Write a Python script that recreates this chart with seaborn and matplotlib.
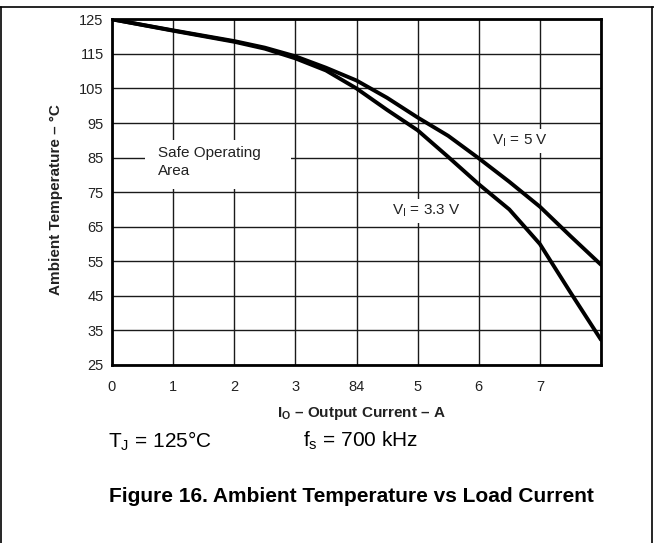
import matplotlib
matplotlib.use("Agg")
import matplotlib.pyplot as plt
import seaborn as sns
import pandas as pd
from matplotlib.lines import Line2D
from matplotlib.patches import Rectangle

# ---- data ----
current_5v = [0, 1, 2, 2.5, 3, 3.5, 4, 4.5, 5, 5.5, 6, 6.5, 7, 7.5, 8]
temp_5v = [125, 121.8, 118.7, 116.8, 114.3, 111.0, 107.3, 102.3, 96.6, 91.3, 84.8, 78.0, 70.8, 62.3, 54.0]
current_33v = [0, 1, 2, 2.5, 3, 3.5, 4, 4.5, 5, 5.5, 6, 6.5, 7, 7.5, 8]
temp_33v = [125, 121.7, 118.5, 116.5, 113.7, 110.2, 105.0, 98.8, 92.9, 85.2, 77.3, 70.0, 60.0, 46.0, 32.3]
x_ticks = [0, 1, 2, 3, 4, 5, 6, 7, 8]
x_tick_labels = ["0", "1", "2", "3", "84", "5", "6", "7", ""]
y_ticks = [25, 35, 45, 55, 65, 75, 85, 95, 105, 115, 125]

df = pd.concat([
    pd.DataFrame({"I": current_5v, "T": temp_5v, "VI": "5 V"}),
    pd.DataFrame({"I": current_33v, "T": temp_33v, "VI": "3.3 V"}),
])

sns.set_theme(style="white")
plt.rcParams["font.family"] = ["Liberation Sans", "DejaVu Sans"]
plt.rcParams["mathtext.fontset"] = "custom"
plt.rcParams["mathtext.rm"] = "Liberation Sans"
plt.rcParams["mathtext.it"] = "Liberation Sans"
plt.rcParams["mathtext.bf"] = "Liberation Sans:bold"

fig = plt.figure(figsize=(6.54, 5.43), dpi=100)
fig.patch.set_facecolor("white")
ax = fig.add_axes([112 / 654, 1 - 365 / 543, (601 - 112) / 654, (365 - 19.3) / 543])

for vi in ["5 V", "3.3 V"]:
    sns.lineplot(data=df[df["VI"] == vi], x="I", y="T", ax=ax, color="black",
                 lw=2.8, sort=False, zorder=5, legend=False)

ax.set_xlim(0, 8)
ax.set_ylim(25, 125)
ax.set_xticks(x_ticks)
ax.set_xticklabels(x_tick_labels)
ax.set_yticks(y_ticks)
ax.tick_params(axis="both", length=0, labelsize=10.5, colors="#222222")
ax.tick_params(axis="x", pad=11)
ax.tick_params(axis="y", pad=6)
ax.grid(True, color="#1a1a1a", lw=1.0)
ax.set_axisbelow(True)
for s in ax.spines.values():
    s.set_visible(True)
    s.set_color("black")
    s.set_linewidth(2.0)
ax.set_xlabel("")
ax.set_ylabel("")

# white label boxes
ax.add_patch(Rectangle((0.54, 76.0), 2.39, 14.0, facecolor="white", edgecolor="none", zorder=3))
ax.text(0.75, 83.7, "Safe Operating\nArea", fontsize=11, color="#222222",
        ha="left", va="center", linespacing=1.3, zorder=4)
ax.text(6.68, 89.8, r"V$_\mathregular{I}$ = 5 V", fontsize=11, color="#222222",
        ha="center", va="center", zorder=4,
        bbox=dict(facecolor="white", edgecolor="none", pad=2.5))
ax.text(5.14, 69.5, r"V$_\mathregular{I}$ = 3.3 V", fontsize=11, color="#222222",
        ha="center", va="center", zorder=4,
        bbox=dict(facecolor="white", edgecolor="none", pad=2.5))

# axis titles
fig.text(56 / 654, 1 - 200 / 543, "Ambient Temperature – °C", rotation=90,
         fontsize=11, fontweight="bold", ha="center", va="center", color="#222222")
fig.text(361 / 654, 1 - 413 / 543, r"I$_\mathbf{O}$ – Output Current – A",
         fontsize=11, fontweight="bold", ha="center", va="center", color="#222222")

# conditions
fig.text(108 / 654, 1 - 441 / 543, r"T$_\mathregular{J}$ = 125°C", fontsize=15,
         ha="left", va="center", color="black")
fig.text(303 / 654, 1 - 441 / 543, r"f$_\mathregular{s}$ = 700 kHz", fontsize=15,
         ha="left", va="center", color="black")

# caption
fig.text(351 / 654, 1 - 497 / 543, "Figure 16. Ambient Temperature vs Load Current",
         fontsize=15, fontweight="bold", ha="center", va="center", color="black")

# outer frame
ytop = 1 - 7 / 543
fig.add_artist(Line2D([0, 1], [ytop, ytop], transform=fig.transFigure, color="black", lw=1.2))
fig.add_artist(Line2D([0.0015, 0.0015], [0, ytop], transform=fig.transFigure, color="black", lw=1.2))
fig.add_artist(Line2D([652 / 654, 652 / 654], [0, ytop], transform=fig.transFigure, color="black", lw=1.2))

fig.savefig("out.png", dpi=100, facecolor="white")
